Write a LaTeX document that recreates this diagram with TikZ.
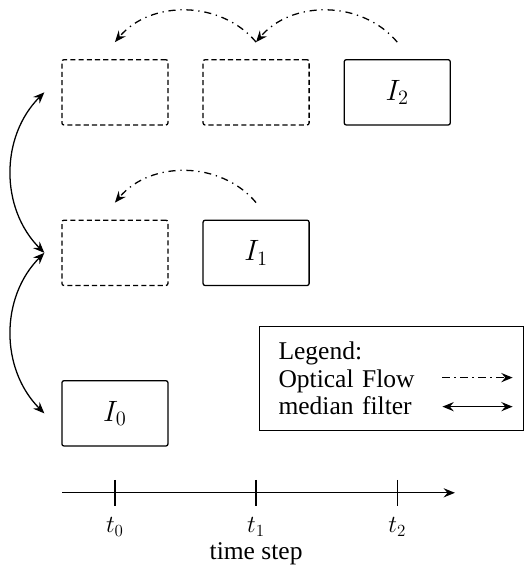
\documentclass[tikz,border=0pt]{standalone}
\usepackage{fontspec}
\setmainfont{Liberation Serif}
\usetikzlibrary{arrows.meta,positioning}

\begin{document}
\begin{tikzpicture}[
		line width=0.9pt,
		every node/.style={font=\fontsize{18}{19.5}\selectfont},
		>={Stealth[length=8pt,width=6.5pt,inset=2.8pt]},
		frame/.style={draw,rounded corners=1.5pt,minimum width=2.63cm,minimum height=1.62cm,inner sep=0pt,font=\fontsize{21}{25}\selectfont},
		warped/.style={frame,dash pattern=on 3.6pt off 2.2pt},
		flow/.style={->,dash pattern=on 5pt off 3.4pt on 0.9pt off 3.4pt},
		median/.style={<->}
	]
		\useasboundingbox (0,0) rectangle (13.02,14.01);
		% frames, one row per time step
		\node[frame] (i0) at (2.85,3.76) {$ I_0 $};
		\node[warped] (w10) at (2.85,7.74) {};
		\node[frame] (i1) at (6.35,7.74) {$ I_1 $};
		\node[warped] (w20) at (2.85,11.72) {};
		\node[warped] (w21) at (6.35,11.72) {};
		\node[frame] (i2) at (9.85,11.72) {$ I_2 $};
		% optical flow back to earlier time steps
		\draw[flow] ([yshift=0.42cm]i2.north) to[bend right=50] ([yshift=0.42cm]w21.north);
		\draw[flow] ([yshift=0.42cm]w21.north) to[bend right=50] ([yshift=0.42cm]w20.north);
		\draw[flow] ([yshift=0.42cm]i1.north) to[bend right=50] ([yshift=0.42cm]w10.north);
		% median filter over the first column
		\draw[median] ([xshift=-0.42cm]i0.west) to[bend left=45] ([xshift=-0.42cm]w10.west);
		\draw[median] ([xshift=-0.42cm]w10.west) to[bend left=45] ([xshift=-0.42cm]w20.west);
		% legend
		\node[draw,align=left,text width=5.6cm,inner xsep=0.47cm,inner ysep=0.38cm,anchor=north west] (legend) at (6.42,5.93) {Legend:\\Optical Flow\\median filter};
		\draw[flow] ([xshift=-2.02cm,yshift=0.02cm]legend.east) -- ([xshift=-0.28cm,yshift=0.02cm]legend.east);
		\draw[median] ([xshift=-2.02cm,yshift=-0.70cm]legend.east) -- ([xshift=-0.28cm,yshift=-0.70cm]legend.east);
		% time axis
		\draw[->] (1.54,1.79) -- (11.28,1.79);
		\foreach \x/\n in {2.85/0,6.35/1,9.85/2}
		{
		\draw (\x,2.11) -- (\x,1.47);
		\node[below=6pt,inner sep=2pt] (t\n) at (\x,1.47) {$ t_\n $};
		}
		\node[below=1.5pt of t1,inner sep=0pt] (step) {time step};
\end{tikzpicture}
\end{document}
